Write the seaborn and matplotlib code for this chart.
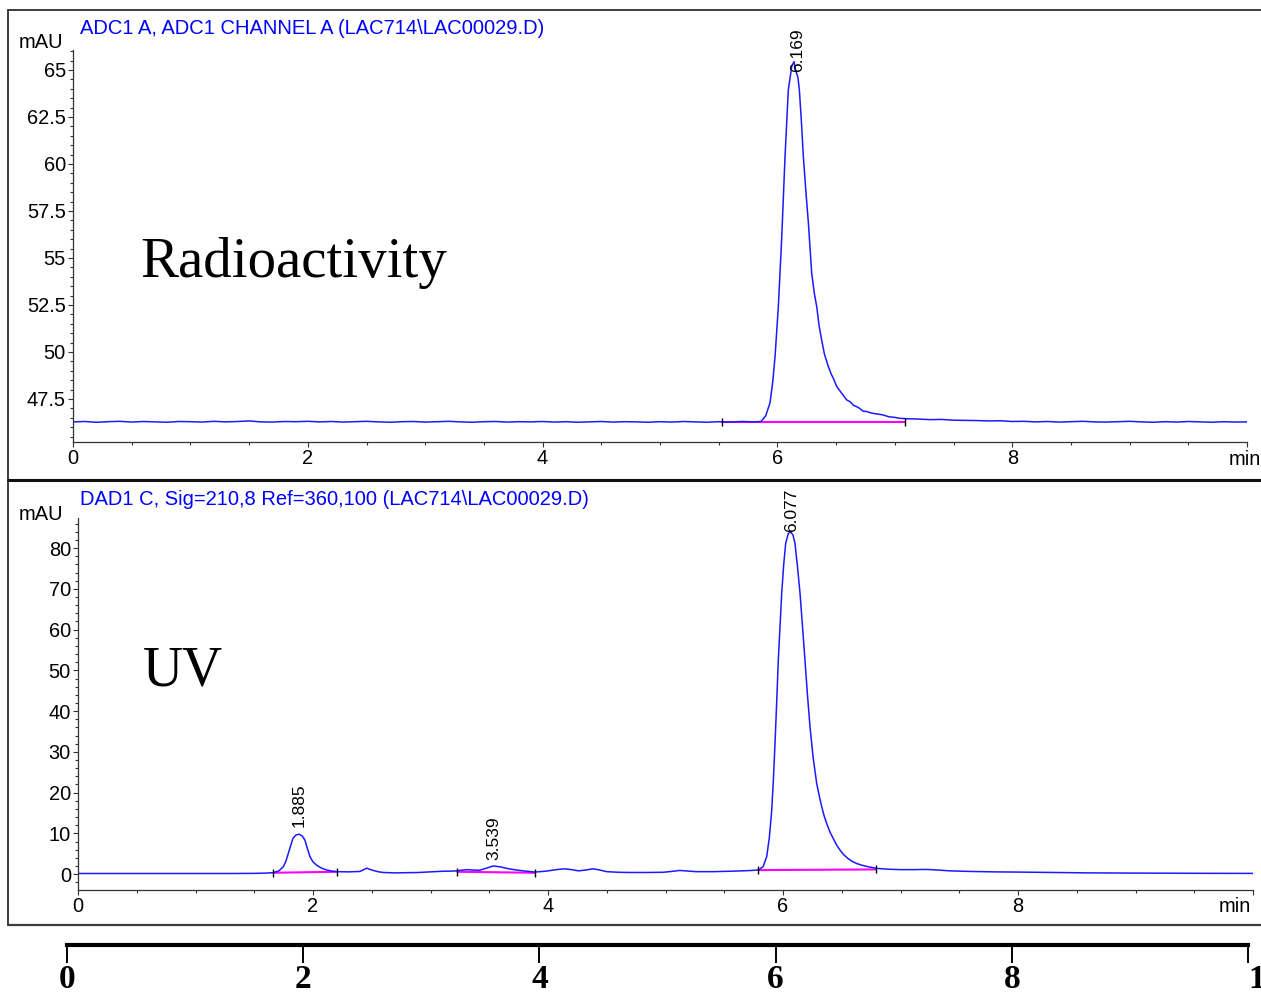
import matplotlib
matplotlib.use('Agg')
import matplotlib.pyplot as plt
from matplotlib.lines import Line2D
from matplotlib.ticker import MultipleLocator, FixedLocator
import seaborn as sns

W, H = 1261, 994

# Radioactivity trace (ADC1 A), mAU vs min
rad_time = [
    0.0, 0.1, 0.2, 0.3, 0.4, 0.5, 0.6, 0.7, 0.8, 0.9,
    1.0, 1.1, 1.2, 1.3, 1.4, 1.5, 1.6, 1.7, 1.8, 1.9,
    2.0, 2.1, 2.2, 2.3, 2.4, 2.5, 2.6, 2.7, 2.8, 2.9,
    3.0, 3.1, 3.2, 3.3, 3.4, 3.5, 3.6, 3.7, 3.8, 3.9,
    4.0, 4.1, 4.2, 4.3, 4.4, 4.5, 4.6, 4.7, 4.8, 4.9,
    5.0, 5.1, 5.2, 5.3, 5.4, 5.5, 5.6, 5.7, 5.8,
    5.86, 5.9, 5.937, 5.96, 5.98, 6.008, 6.036, 6.065, 6.093, 6.122,
    6.141, 6.155, 6.164, 6.175, 6.187, 6.205, 6.221, 6.243, 6.264, 6.292,
    6.315, 6.335, 6.355, 6.377, 6.4, 6.434, 6.46, 6.48, 6.505, 6.53,
    6.56, 6.59, 6.62, 6.65, 6.676, 6.7, 6.73, 6.761, 6.8, 6.85,
    6.9, 6.95, 7.0, 7.04, 7.1,
    7.2, 7.3, 7.4, 7.5, 7.6, 7.7, 7.8, 7.9, 8.0, 8.1,
    8.2, 8.3, 8.4, 8.5, 8.6, 8.7, 8.8, 8.9, 9.0, 9.1,
    9.2, 9.3, 9.4, 9.5, 9.6, 9.7, 9.8, 9.9, 10.0,
]
rad_signal = [
    46.28, 46.30, 46.26, 46.29, 46.31, 46.27, 46.30, 46.28, 46.26, 46.30,
    46.29, 46.27, 46.31, 46.28, 46.30, 46.33, 46.28, 46.27, 46.30, 46.29,
    46.31, 46.28, 46.30, 46.27, 46.29, 46.31, 46.28, 46.26, 46.29, 46.30,
    46.27, 46.29, 46.31, 46.28, 46.26, 46.29, 46.30, 46.27, 46.29, 46.28,
    46.30, 46.27, 46.29, 46.26, 46.28, 46.30, 46.27, 46.29, 46.28, 46.26,
    46.29, 46.27, 46.30, 46.28, 46.26, 46.29, 46.27, 46.30, 46.28,
    46.30, 46.60, 47.29, 48.40, 49.75, 52.41, 55.96, 60.39, 63.94, 65.18,
    65.44, 65.00, 64.82, 64.60, 63.94, 62.20, 60.39, 58.50, 56.86, 54.20,
    53.10, 52.41, 51.40, 50.64, 49.90, 49.22, 48.80, 48.55, 48.16, 47.95,
    47.70, 47.45, 47.35, 47.15, 47.09, 47.00, 46.85, 46.83, 46.75, 46.70,
    46.65, 46.55, 46.52, 46.47, 46.45,
    46.43, 46.40, 46.41, 46.37, 46.36, 46.35, 46.33, 46.34, 46.30, 46.31,
    46.28, 46.30, 46.27, 46.29, 46.31, 46.28, 46.27, 46.29, 46.31, 46.28,
    46.26, 46.29, 46.27, 46.30, 46.28, 46.26, 46.29, 46.27, 46.28,
]
rad_base_time = [5.525, 7.087]
rad_base_value = [46.27, 46.27]
rad_peak_time = [6.169]
rad_peak_label = ['6.169']
rad_peak_top = [64.9]

# UV trace (DAD1 C, 210 nm), mAU vs min
uv_time = [
    0.0, 0.5, 1.0, 1.3, 1.5, 1.6, 1.66, 1.71, 1.747, 1.77,
    1.79, 1.81, 1.83, 1.855, 1.883, 1.91, 1.932, 1.95, 1.974, 2.0,
    2.03, 2.07, 2.117, 2.16, 2.2, 2.3, 2.4, 2.457, 2.5, 2.56,
    2.6, 2.7, 2.8, 2.9, 3.0, 3.1, 3.2, 3.26, 3.31, 3.36,
    3.42, 3.48, 3.535, 3.6, 3.65, 3.72, 3.79, 3.89, 3.99, 4.07,
    4.145, 4.2, 4.26, 4.32, 4.386, 4.44, 4.5, 4.6, 4.7, 4.85,
    4.98, 5.05, 5.12, 5.19, 5.26, 5.4, 5.55, 5.7, 5.79, 5.83,
    5.861, 5.884, 5.904, 5.918, 5.932, 5.946, 5.96, 5.975, 5.989, 6.006,
    6.023, 6.045, 6.065, 6.085, 6.102, 6.123, 6.145, 6.166, 6.187, 6.208,
    6.23, 6.257, 6.287, 6.31, 6.33, 6.35, 6.372, 6.40, 6.43, 6.455,
    6.485, 6.515, 6.55, 6.59, 6.627, 6.67, 6.71, 6.797, 6.9, 7.0,
    7.1, 7.22, 7.32, 7.42, 7.6, 7.8, 7.99, 8.3, 8.6, 9.0,
    9.5, 10.0,
]
uv_signal = [
    0.15, 0.15, 0.15, 0.15, 0.18, 0.25, 0.35, 0.8, 1.8, 3.2,
    5.1, 7.0, 8.8, 9.6, 9.8, 9.3, 8.3, 6.5, 4.3, 3.0,
    2.2, 1.5, 1.0, 0.75, 0.6, 0.55, 0.65, 1.45, 1.0, 0.55,
    0.4, 0.3, 0.35, 0.4, 0.55, 0.7, 0.75, 0.95, 1.1, 1.0,
    0.95, 1.5, 2.0, 1.75, 1.4, 1.05, 0.8, 0.5, 0.75, 1.1,
    1.3, 1.1, 0.8, 1.0, 1.3, 1.0, 0.6, 0.45, 0.4, 0.4,
    0.45, 0.65, 0.9, 0.75, 0.6, 0.6, 0.7, 0.85, 1.0, 1.8,
    4.25, 9.0, 15.7, 23.0, 32.1, 42.0, 52.5, 61.0, 68.9, 76.0,
    81.2, 83.6, 84.0, 83.2, 81.2, 75.5, 68.9, 60.8, 52.5, 44.0,
    36.1, 28.5, 22.2, 19.0, 16.5, 14.3, 12.4, 10.3, 8.6, 7.2,
    5.9, 4.8, 3.9, 3.1, 2.6, 2.2, 1.9, 1.4, 1.2, 1.1,
    1.1, 1.15, 1.0, 0.8, 0.65, 0.55, 0.5, 0.4, 0.3, 0.25,
    0.2, 0.17,
]
uv_base_time = [[1.662, 2.2], [3.228, 3.889], [5.79, 6.789]]
uv_base_value = [[0.33, 0.57], [0.57, 0.33], [0.98, 1.15]]
uv_peak_time = [1.885, 3.539, 6.077]
uv_peak_label = ['1.885', '3.539', '6.077']
uv_peak_top = [11.5, 3.4, 83.9]

time_ticks = [0, 2, 4, 6, 8, 10]
time_labels = ['0', '2', '4', '6', '8', '']
scale_labels = ['0', '2', '4', '6', '8', '10']

sns.set_style('ticks')
plt.rcParams['font.family'] = ['Liberation Sans', 'DejaVu Sans']
plt.rcParams['text.color'] = 'black'
plt.rcParams['xtick.labelcolor'] = 'black'
plt.rcParams['ytick.labelcolor'] = 'black'

TRACE = '#1a1aff'
BASE = '#ff00ff'
AX = '#333333'


def fx(x):
    return x / W


def fy(y):
    return 1 - y / H


fig = plt.figure(figsize=(W / 100, H / 100), dpi=100)

ax1 = fig.add_axes([fx(73), fy(442), 1174 / W, 392 / H])
ax2 = fig.add_axes([fx(78), fy(890), 1175 / W, 372 / H])

sns.lineplot(x=rad_time, y=rad_signal, ax=ax1, color=TRACE, linewidth=1.1,
             estimator=None, sort=False)
sns.lineplot(x=uv_time, y=uv_signal, ax=ax2, color=TRACE, linewidth=1.1,
             estimator=None, sort=False)

# integration baselines
ax1.plot(rad_base_time, rad_base_value, color=BASE, lw=1.5, zorder=1)
ax1.plot(rad_base_time, rad_base_value, ls='none', marker='|', ms=6, mew=1, color='black')
for bt, bv in zip(uv_base_time, uv_base_value):
    ax2.plot(bt, bv, color=BASE, lw=1.5, zorder=1)
    ax2.plot(bt, bv, ls='none', marker='|', ms=6, mew=1, color='black')

for t, lab, top in zip(rad_peak_time, rad_peak_label, rad_peak_top):
    ax1.text(t, top, lab, rotation=90, ha='center', va='bottom', fontsize=12.5)
for t, lab, top in zip(uv_peak_time, uv_peak_label, uv_peak_top):
    ax2.text(t, top, lab, rotation=90, ha='center', va='bottom', fontsize=12.5)

ax1.set_xlim(0, 10)
ax1.set_ylim(45.21, 66.06)
ax1.yaxis.set_major_locator(FixedLocator([47.5, 50, 52.5, 55, 57.5, 60, 62.5, 65]))
ax1.set_yticklabels(['47.5', '50', '52.5', '55', '57.5', '60', '62.5', '65'])
ax1.yaxis.set_minor_locator(MultipleLocator(0.5))

ax2.set_xlim(0, 10)
ax2.set_ylim(-3.9, 87.4)
ax2.yaxis.set_major_locator(FixedLocator([0, 10, 20, 30, 40, 50, 60, 70, 80]))
ax2.yaxis.set_minor_locator(MultipleLocator(2))

for ax in (ax1, ax2):
    ax.set_facecolor('none')
    sns.despine(ax=ax)
    for s in ('left', 'bottom'):
        ax.spines[s].set_color(AX)
        ax.spines[s].set_linewidth(0.9)
    ax.set_xticks(time_ticks)
    ax.set_xticklabels(time_labels)
    ax.xaxis.set_minor_locator(MultipleLocator(0.5))
    ax.tick_params(which='major', length=3.6, width=0.8, color=AX,
                   labelsize=14.4, labelcolor='black', pad=1.5)
    ax.tick_params(which='minor', length=2.2, width=0.8, color=AX)
    ax.set_xlabel('')
    ax.set_ylabel('')

# headers and unit labels
fig.text(fx(80), fy(28), r'ADC1 A, ADC1 CHANNEL A (LAC714\LAC00029.D)',
         color='blue', fontsize=14.5, ha='left', va='center')
fig.text(fx(80), fy(500), r'DAD1 C, Sig=210,8 Ref=360,100 (LAC714\LAC00029.D)',
         color='blue', fontsize=14.5, ha='left', va='center')
fig.text(fx(63), fy(43), 'mAU', fontsize=14.5, ha='right', va='center')
fig.text(fx(63), fy(515), 'mAU', fontsize=14.5, ha='right', va='center')
fig.text(fx(1245), fy(460), 'min', fontsize=14.4, ha='center', va='center')
fig.text(fx(1235), fy(906), 'min', fontsize=14.4, ha='center', va='center')

fig.text(fx(140), fy(277), 'Radioactivity', family='Liberation Serif',
         fontsize=41, color='black', ha='left', va='baseline')
fig.text(fx(143), fy(685), 'UV', family='Liberation Serif',
         fontsize=40, color='black', ha='left', va='baseline')

# panel frames
frame = '#3c3c3c'
fig.add_artist(Line2D([fx(8), 1], [fy(10), fy(10)], color=frame, lw=1.4))
fig.add_artist(Line2D([fx(8), fx(8)], [fy(10), fy(925)], color=frame, lw=1.4))
fig.add_artist(Line2D([fx(8), 1], [fy(480), fy(480)], color='#111111', lw=2.2))
fig.add_artist(Line2D([fx(8), 1], [fy(925), fy(925)], color=frame, lw=1.6))

# common time scale below the panels
ax3 = fig.add_axes([fx(67), fy(945), 1181 / W, 0.0001])
ax3.set_facecolor('none')
for s in ('left', 'right', 'top'):
    ax3.spines[s].set_visible(False)
ax3.spines['bottom'].set_linewidth(3)
ax3.spines['bottom'].set_color('black')
ax3.set_xlim(0, 10)
ax3.set_yticks([])
ax3.set_xticks(time_ticks)
labs = ax3.set_xticklabels(scale_labels, family='Liberation Serif',
                           fontweight='bold', fontsize=24)
labs[-1].set_horizontalalignment('left')
ax3.tick_params(axis='x', length=13, width=1.4, color='black', pad=1)

fig.savefig('out.png', dpi=100)
